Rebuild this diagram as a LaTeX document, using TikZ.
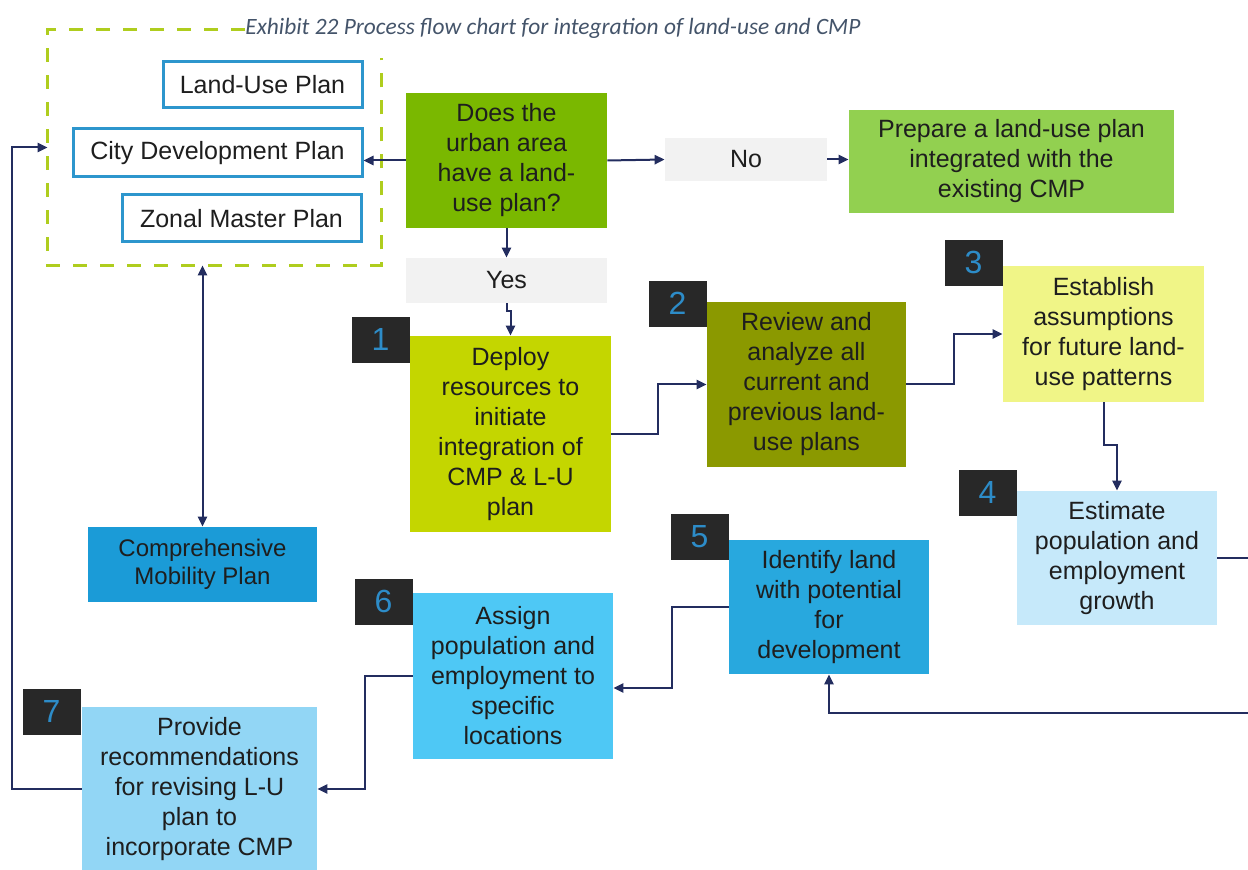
\documentclass[tikz,border=0pt]{standalone}
\usepackage{fontspec}
\setmainfont{Liberation Sans}
\newfontfamily\captionfont{Carlito}
\usetikzlibrary{arrows.meta}

\definecolor{ink}{RGB}{30,30,30}
\definecolor{titlecol}{RGB}{68,84,106}
\definecolor{framegreen}{RGB}{175,205,30}
\definecolor{planblue}{RGB}{45,150,205}
\definecolor{decgreen}{RGB}{122,184,0}
\definecolor{prepgreen}{RGB}{146,208,80}
\definecolor{greybox}{RGB}{242,242,242}
\definecolor{limefill}{RGB}{196,214,0}
\definecolor{olivefill}{RGB}{139,153,0}
\definecolor{yellowfill}{RGB}{240,245,135}
\definecolor{palebluefill}{RGB}{198,233,250}
\definecolor{midbluefill}{RGB}{40,168,222}
\definecolor{skybluefill}{RGB}{78,200,245}
\definecolor{lightskyfill}{RGB}{146,214,245}
\definecolor{cmpblue}{RGB}{27,155,215}
\definecolor{navy}{RGB}{35,45,95}
\definecolor{badgefill}{RGB}{40,40,40}
\definecolor{badgenum}{RGB}{45,140,200}

\begin{document}
\begin{tikzpicture}[x=0.5pt,y=-0.5pt,
  box/.style={inner sep=0pt, align=center, text=ink,
    font=\fontsize{12.5}{15}\selectfont},
  planbox/.style={box, draw=planblue, line width=1.5pt, fill=white},
  badge/.style={fill=badgefill, text=badgenum, inner sep=0pt,
    minimum width=29pt, minimum height=23pt, anchor=south east,
    font=\fontsize{16}{16}\selectfont},
  tip/.style={Triangle[length=5pt,width=4.6pt]},
  link/.style={draw=navy, line width=1pt, -{Triangle[length=5pt,width=4.6pt]}},
  twoway/.style={draw=navy, line width=1pt,
    {Triangle[length=5pt,width=4.6pt]}-{Triangle[length=5pt,width=4.6pt]}},
  framedash/.style={draw=framegreen, line width=1.5pt,
    dash pattern=on 7pt off 6.5pt}
]
\useasboundingbox (0,0) rectangle (1248,870);
\clip (0,0) rectangle (1248,870);

% caption
\node[anchor=west, inner sep=0pt, text=titlecol,
  font=\captionfont\itshape\fontsize{11.7}{13}\selectfont] (title) at (245,28)
  {Exhibit 22 Process flow chart for integration of land-use and CMP};

% group of existing plans
\node[inner sep=0pt, minimum width=166.5pt, minimum height=117.5pt] (frame) at (214.5,147.5) {};
\draw[framedash] (title.west |- frame.north) -- (frame.north west) -- (frame.south west)
  -- (frame.south east) -- ([yshift=-14pt]frame.north east);

\node[planbox, minimum width=99.5pt, minimum height=23pt] (lup) at (262.5,85) {Land-Use Plan};
\node[planbox, minimum width=144.5pt, minimum height=24pt] (cdp) at (217.5,153) {City Development Plan};
\node[planbox, minimum width=119.5pt, minimum height=23.5pt] (zmp) at (241.5,218.5) {Zonal Master Plan};

% decision and its outcomes
\node[box, fill=decgreen, minimum width=100.5pt, minimum height=67.5pt] (dec) at (506.5,160.5)
  {Does the\\urban area\\have a land-\\use plan?};
\node[box, fill=greybox, minimum width=81pt, minimum height=21.5pt] (no) at (746,159.5) {No};
\node[box, fill=prepgreen, minimum width=162.5pt, minimum height=51.5pt] (prep) at (1011.5,161.5)
  {Prepare a land-use plan\\integrated with the\\existing CMP};
\node[box, fill=greybox, minimum width=100.5pt, minimum height=22.5pt] (yes) at (506.5,280.5) {Yes};

% process steps
\node[box, fill=limefill, minimum width=100.5pt, minimum height=98pt] (s1) at (510.5,434)
  {Deploy\\resources to\\initiate\\integration of\\CMP \& L-U\\plan};
\node[box, fill=olivefill, minimum width=99.5pt, minimum height=82.5pt] (s2) at (806.5,384.5)
  {Review and\\analyze all\\current and\\previous land-\\use plans};
\node[box, fill=yellowfill, minimum width=100.5pt, minimum height=68pt] (s3) at (1103.5,334)
  {Establish\\assumptions\\for future land-\\use patterns};
\node[box, fill=palebluefill, minimum width=100pt, minimum height=67pt] (s4) at (1117,558)
  {Estimate\\population and\\employment\\growth};
\node[box, fill=midbluefill, minimum width=100pt, minimum height=67pt] (s5) at (829,607)
  {Identify land\\with potential\\for\\development};
\node[box, fill=skybluefill, minimum width=100pt, minimum height=83pt] (s6) at (513,676)
  {Assign\\population and\\employment to\\specific\\locations};
\node[box, fill=lightskyfill, minimum width=117.5pt, minimum height=82pt] (s7) at (199.5,789)
  {Provide\\recommendations\\for revising L-U\\plan to\\incorporate CMP};
\node[box, fill=cmpblue, minimum width=114.5pt, minimum height=37.5pt,
  font=\fontsize{12}{14}\selectfont] (cmp) at (202.5,564.5)
  {Comprehensive\\Mobility Plan};

% step numbers
\node[badge] (n1) at (410,363) {1};
\node[badge] (n2) at (707,327) {2};
\node[badge] (n3) at (1003,286) {3};
\node[badge] (n4) at (1017,516) {4};
\node[badge] (n5) at (729,560) {5};
\node[badge] (n6) at (413,625) {6};
\node[badge] (n7) at (81,735) {7};

% connectors
\draw[link] (dec.west) -- (dec.west -| cdp.east);
\draw[link] (dec.east) -- (no.west);
\draw[link] (no.east) -- (no.east -| prep.west);
\draw[link] (dec.south) -- (yes.north);
\draw[link] (yes.south) -- ++(0,8) -| (s1.north);
\draw[link] (s1.east) -- ++(47,0) |- (s2.west);
\draw[link] (s2.east) -- ++(48,0) |- (s3.west);
\draw[link] (s3.south) -- ++(0,43) -| (s4.north);
\draw[link] (s4.east) -- ++(41,0) -- ++(0,155) -| (s5.south);
\draw[link] (s5.west) -- ++(-57,0) |- ([yshift=-6pt]s6.east);
\draw[link] (s6.west) -- ++(-48,0) |- (s7.east);
\draw[link] (s7.west) -- ++(-70,0) |- (frame.west);
\draw[twoway] (cmp.north |- frame.south) -- (cmp.north);
\end{tikzpicture}
\end{document}
